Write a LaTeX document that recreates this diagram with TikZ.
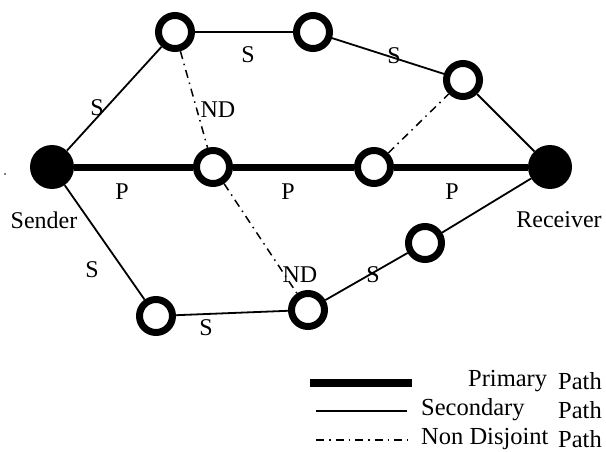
\documentclass[tikz,border=0pt]{standalone}
\usepackage{fontspec}
\setmainfont{Liberation Serif}
\begin{document}
\begin{tikzpicture}[x=1pt,y=-1pt,
  hollow/.style={circle,draw=black,line width=7pt,minimum size=33pt,inner sep=0pt},
  solidnode/.style={circle,fill=black,minimum size=44pt,inner sep=0pt},
  primary/.style={line width=7pt},
  secondary/.style={line width=1.8pt},
  nondisj/.style={line width=1.5pt,dash pattern=on 8pt off 5pt on 1.5pt off 5pt},
  lbl/.style={font=\fontsize{24}{26}\selectfont,inner sep=0pt},
  leg/.style={font=\fontsize{24.5}{26}\selectfont,inner sep=0pt,anchor=west}]
\useasboundingbox (0,0) rectangle (606,452);
% nodes
\node[solidnode] (snd) at (52,167) {};
\node[solidnode] (rcv) at (550,167) {};
\node[hollow] (n1) at (175,32) {};
\node[hollow] (n2) at (313,32) {};
\node[hollow] (n3) at (463,80) {};
\node[hollow] (m1) at (213,167) {};
\node[hollow] (m2) at (374,167) {};
\node[hollow] (b1) at (156,316) {};
\node[hollow] (b2) at (308,310) {};
\node[hollow] (b3) at (425,243) {};
% primary path
\draw[primary] (snd) -- (m1);
\draw[primary] (m1) -- (m2);
\draw[primary] (m2) -- (rcv);
% secondary paths
\draw[secondary] (snd) -- (n1);
\draw[secondary] (n1) -- (n2);
\draw[secondary] (n2) -- (n3);
\draw[secondary] (n3) -- (rcv);
\draw[secondary] (snd) -- (b1);
\draw[secondary] (b1) -- (b2);
\draw[secondary] (b2) -- (b3);
\draw[secondary] (b3) -- (rcv);
% non disjoint
\draw[nondisj] (n1) -- (m1);
\draw[nondisj] (m1) -- (b2);
\draw[nondisj] (m2) -- (n3);
% labels
\node[lbl] (ls1) at (97,108) {S};
\node[lbl] (ls2) at (248,55) {S};
\node[lbl] (ls3) at (394,56) {S};
\node[lbl] (lnd1) at (218,110) {ND};
\node[lbl] (lp1) at (122,192) {P};
\node[lbl] (lp2) at (288,192) {P};
\node[lbl] (lp3) at (452,192) {P};
\node[lbl] (ls4) at (92,270) {S};
\node[lbl] (ls5) at (206,328) {S};
\node[lbl] (lnd2) at (300,275) {ND};
\node[lbl] (ls6) at (373,275) {S};
\node[lbl] (lsnd) at (44,220) {Sender};
\node[lbl] (lrcv) at (559,220) {Receiver};
\fill (5,174) circle (0.8);
% legend
\coordinate (pa) at (310,383); \coordinate (pb) at (412,383);
\coordinate (sa) at (316,411); \coordinate (sb) at (407,411);
\coordinate (na) at (316,440); \coordinate (nb) at (408,440);
\draw[line width=8pt] (pa) -- (pb);
\draw[secondary] (sa) -- (sb);
\draw[nondisj] (na) -- (nb);
\node[leg] (t1) at (468,381) {Primary};
\node[leg] (t1b) at (558,381) {Path};
\node[leg] (t2) at (421,410) {Secondary};
\node[leg] (t2b) at (558,410) {Path};
\node[leg] (t3) at (421,439) {Non Disjoint};
\node[leg] (t3b) at (558,439) {Path};
\end{tikzpicture}
\end{document}
